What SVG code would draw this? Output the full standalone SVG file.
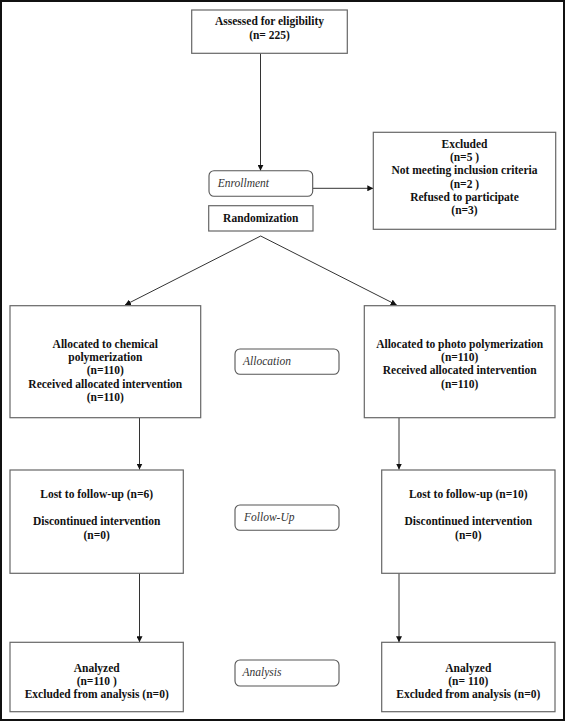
<svg xmlns="http://www.w3.org/2000/svg" width="565" height="722" viewBox="0 0 565 722">
<style>
  .box{fill:#fff;stroke:#666;stroke-width:1.2}
  .lbl{fill:#fff;stroke:#555;stroke-width:1.1}
  .t{font-family:"Liberation Serif","Times New Roman",serif;font-size:11.5px;font-weight:bold;fill:#111;text-anchor:middle}
  .it{font-family:"Liberation Serif","Times New Roman",serif;font-size:11.5px;font-style:italic;fill:#333}
  .c{fill:none;stroke:#333;stroke-width:1}
</style>
<defs>
  <marker id="ah" viewBox="0 0 10 10" refX="10" refY="5" markerWidth="6" markerHeight="6" markerUnits="userSpaceOnUse" orient="auto">
    <path d="M0,0 L10,5 L0,10 z" fill="#111"/>
  </marker>
</defs>
<rect x="0" y="0" width="565" height="722" fill="#fff"/>
<rect x="1" y="1" width="563" height="719" fill="none" stroke="#111" stroke-width="2"/>

<g id="connectors">
  <line class="c" x1="260.5" y1="53.3" x2="260.5" y2="170.7" marker-end="url(#ah)"/>
  <line class="c" x1="312.7" y1="188.3" x2="373.3" y2="188.3" marker-end="url(#ah)"/>
  <line class="c" x1="260.7" y1="236" x2="125" y2="305" marker-end="url(#ah)"/>
  <line class="c" x1="260.7" y1="236" x2="396.7" y2="305" marker-end="url(#ah)"/>
  <line class="c" x1="139.5" y1="417.7" x2="139.5" y2="469.5" marker-end="url(#ah)"/>
  <line class="c" x1="399" y1="417.7" x2="399" y2="469.5" marker-end="url(#ah)"/>
  <line class="c" x1="139.5" y1="573.3" x2="139.5" y2="642.3" marker-end="url(#ah)"/>
  <line class="c" x1="399" y1="573.3" x2="399" y2="642.3" marker-end="url(#ah)"/>
</g>

<g id="assessed">
  <rect class="box" x="191.7" y="10" width="155.6" height="43.3"/>
  <text class="t" x="269.5" y="25">Assessed for eligibility</text>
  <text class="t" x="269.5" y="38.5">(n= 225)</text>
</g>

<g id="enrollment">
  <rect class="lbl" x="209" y="170.7" width="103.7" height="25.6" rx="5"/>
  <text class="it" x="217.7" y="187">Enrollment</text>
</g>

<g id="randomization">
  <rect class="box" x="208.7" y="205.7" width="104.3" height="25.3"/>
  <text class="t" x="260.8" y="222.3">Randomization</text>
</g>

<g id="excluded">
  <rect class="box" x="373.3" y="132.3" width="182.4" height="97"/>
  <text class="t" x="464.5" y="147.5">Excluded</text>
  <text class="t" x="464.5" y="161">(n=5 )</text>
  <text class="t" x="464.5" y="174.3">Not meeting inclusion criteria</text>
  <text class="t" x="464.5" y="187.5">(n=2 )</text>
  <text class="t" x="464.5" y="200.5">Refused to participate</text>
  <text class="t" x="464.5" y="214">(n=3)</text>
</g>

<g id="alloc-left">
  <rect class="box" x="10" y="305.7" width="190.7" height="112"/>
  <text class="t" x="105.3" y="347.5">Allocated to chemical</text>
  <text class="t" x="105.3" y="361">polymerization</text>
  <text class="t" x="105.3" y="374.3">(n=110)</text>
  <text class="t" x="105.3" y="387.5">Received allocated intervention</text>
  <text class="t" x="105.3" y="401.3">(n=110)</text>
</g>

<g id="allocation">
  <rect class="lbl" x="235" y="349" width="104" height="25.3" rx="5"/>
  <text class="it" x="243" y="365">Allocation</text>
</g>

<g id="alloc-right">
  <rect class="box" x="364.3" y="305.7" width="190.7" height="112"/>
  <text class="t" x="459.7" y="347.5">Allocated to photo polymerization</text>
  <text class="t" x="459.7" y="361">(n=110)</text>
  <text class="t" x="459.7" y="374.3">Received allocated intervention</text>
  <text class="t" x="459.7" y="387.5">(n=110)</text>
</g>

<g id="follow-left">
  <rect class="box" x="10" y="470" width="173.3" height="103.3"/>
  <text class="t" x="96.7" y="498">Lost to follow-up (n=6)</text>
  <text class="t" x="96.7" y="524.7">Discontinued intervention</text>
  <text class="t" x="96.7" y="539">(n=0)</text>
</g>

<g id="followup">
  <rect class="lbl" x="235" y="505" width="104" height="25.3" rx="5"/>
  <text class="it" x="244" y="520.7">Follow-Up</text>
</g>

<g id="follow-right">
  <rect class="box" x="381.7" y="470" width="173.3" height="103.3"/>
  <text class="t" x="468.3" y="498">Lost to follow-up (n=10)</text>
  <text class="t" x="468.3" y="524.7">Discontinued intervention</text>
  <text class="t" x="468.3" y="539">(n=0)</text>
</g>

<g id="analyzed-left">
  <rect class="box" x="10" y="642.3" width="173.3" height="69.4"/>
  <text class="t" x="96.7" y="671.5">Analyzed</text>
  <text class="t" x="96.7" y="685">(n=110 )</text>
  <text class="t" x="96.7" y="698.3">Excluded from analysis (n=0)</text>
</g>

<g id="analysis">
  <rect class="lbl" x="235" y="660" width="104" height="26" rx="5"/>
  <text class="it" x="242.5" y="676.3">Analysis</text>
</g>

<g id="analyzed-right">
  <rect class="box" x="381.7" y="642.3" width="173.3" height="69.4"/>
  <text class="t" x="468.3" y="671.5">Analyzed</text>
  <text class="t" x="468.3" y="685">(n= 110)</text>
  <text class="t" x="468.3" y="698.3">Excluded from analysis (n=0)</text>
</g>
</svg>
